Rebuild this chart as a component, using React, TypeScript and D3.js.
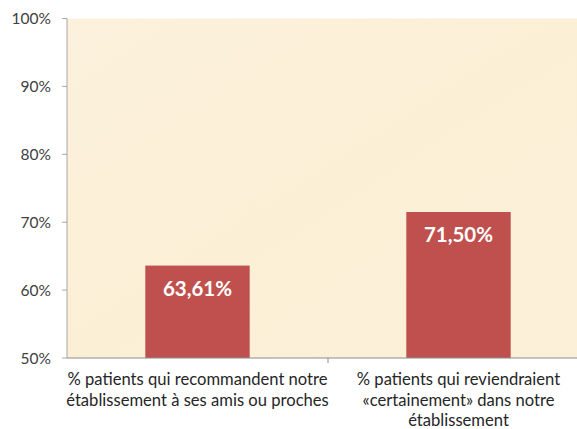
import React from "react";
import * as d3 from "d3";

const categories: string[][] = [
  ["% patients qui recommandent notre", "établissement à ses amis ou proches"],
  ["% patients qui reviendraient", "«certainement» dans notre", "établissement"],
];
const values: number[] = [63.61, 71.5];
const valueLabels: string[] = ["63,61%", "71,50%"];
const yTicks: number[] = [50, 60, 70, 80, 90, 100];

const W = 577;
const H = 429;
const left = 67;
const right = 589;
const top = 18.5;
const bottom = 358;
const font = "Lato, 'Open Sans', 'DejaVu Sans', sans-serif";

export default function App() {
  const x = d3.scaleBand<number>().domain(d3.range(values.length)).range([left, right]).paddingInner(0).paddingOuter(0);
  const y = d3.scaleLinear().domain([50, 100]).range([bottom, top]);
  const bw = x.bandwidth() * 0.4;
  return (
    <svg width={W} height={H} style={{ position: "absolute", left: 0, top: 0 }}>
      <defs>
        <linearGradient id="bg" x1="0" y1="0" x2="1" y2="1">
          <stop offset="0" stopColor="#FCF1DC" />
          <stop offset="0.5" stopColor="#FBEFD6" />
          <stop offset="1" stopColor="#FCF0D9" />
        </linearGradient>
      </defs>
      <rect x={0} y={0} width={W} height={H} fill="#fff" />
      <rect x={left} y={top} width={right - left} height={bottom - top} fill="url(#bg)" />
      {values.map((v, i) => {
        const cx = (x(i) as number) + x.bandwidth() / 2;
        return (
          <g key={i}>
            <rect x={cx - bw / 2} y={y(v)} width={bw} height={bottom - y(v)} fill="#C0504D" />
            <text x={cx} y={y(v) + 30} textAnchor="middle" fill="#fff" fontFamily={font} fontWeight="bold" fontSize={20.5}>
              {valueLabels[i]}
            </text>
          </g>
        );
      })}
      <line x1={left} x2={left} y1={top} y2={bottom} stroke="#A6A6A6" strokeWidth={1} />
      {yTicks.map((t) => (
        <g key={t}>
          <line x1={left - 5} x2={left} y1={y(t)} y2={y(t)} stroke="#A6A6A6" />
          <text x={51} y={y(t) + 5.5} textAnchor="end" fill="#404040" fontFamily={font} fontSize={15.5}>
            {t}%
          </text>
        </g>
      ))}
      <line x1={left} x2={right} y1={bottom} y2={bottom} stroke="#8C8C8C" strokeWidth={1} />
      {values.map((_, i) => (
        <line key={i} x1={(x(i) as number) + x.bandwidth()} x2={(x(i) as number) + x.bandwidth()} y1={bottom} y2={bottom + 5} stroke="#8C8C8C" />
      ))}
      {categories.map((lines, i) => {
        const cx = (x(i) as number) + x.bandwidth() / 2;
        return (
          <text key={i} textAnchor="middle" fill="#262626" fontFamily={font} fontSize={16.6}>
            {lines.map((l, j) => (
              <tspan key={j} x={cx} y={385 + j * 20.5}>
                {l}
              </tspan>
            ))}
          </text>
        );
      })}
    </svg>
  );
}
